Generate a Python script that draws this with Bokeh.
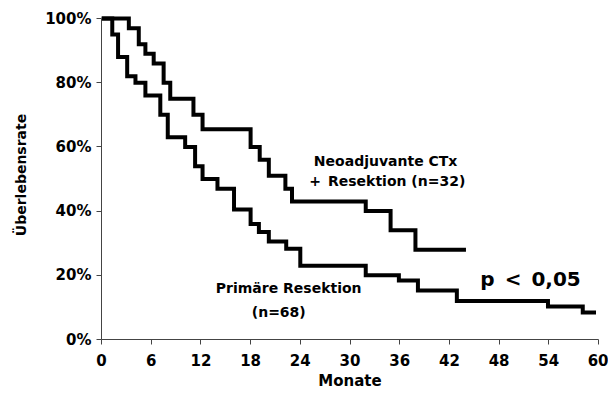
from bokeh.plotting import figure
from bokeh.models import Range1d, Label, FixedTicker, CustomJSTickFormatter
from bokeh.embed import file_html
from bokeh.resources import INLINE

# Kaplan-Meier curves (months, survival %)
neo_t = [0, 3.3, 4.5, 5.3, 6.3, 7.5, 8.3, 11.1, 12.2, 18.0, 19.1, 20.2, 22.2, 23.0, 31.9, 34.9, 37.9, 44.0]
neo_s = [100, 97, 92, 89, 86, 80, 75, 70, 65.5, 60, 56, 51, 47, 43, 40, 34, 28, 28]

prim_t = [0, 1.3, 2.0, 3.1, 4.1, 5.3, 7.1, 8.0, 10.1, 11.3, 12.2, 14.0, 16.0, 18.0, 19.0, 20.2,
          22.3, 24.0, 31.9, 35.9, 38.2, 42.9, 53.9, 58.1, 59.7]
prim_s = [100, 95, 88, 82, 80, 76, 70, 63, 60, 54, 50, 47, 40.5, 36, 33.5, 30.5,
          28.3, 23, 20, 18.4, 15.3, 12, 10.3, 8.4, 8.4]

x_ticks = [0, 6, 12, 18, 24, 30, 36, 42, 48, 54, 60]
y_ticks = [0, 20, 40, 60, 80, 100]

FONT = "DejaVu Sans"

p = figure(width=608, height=393, output_backend="svg", toolbar_location=None,
           x_range=Range1d(0, 60), y_range=Range1d(0, 102.5),
           min_border_left=101, min_border_right=10, min_border_top=10, min_border_bottom=54)
p.outline_line_color = None
p.grid.visible = False
p.background_fill_color = "white"
p.border_fill_color = "white"

p.step(neo_t, neo_s, mode="after", line_color="black", line_width=4, line_join="miter")
p.step(prim_t, prim_s, mode="after", line_color="black", line_width=4, line_join="miter")

for ax in (p.xaxis[0], p.yaxis[0]):
    ax.axis_line_color = "#444444"
    ax.axis_line_width = 1
    ax.major_tick_line_color = "#444444"
    ax.major_tick_in = 0
    ax.major_tick_out = 5
    ax.minor_tick_line_color = None
    ax.major_label_text_font = FONT
    ax.major_label_text_font_style = "bold"
    ax.major_label_text_font_size = "15px"
    ax.major_label_text_color = "black"
    ax.axis_label_text_font = FONT
    ax.axis_label_text_font_style = "bold"
    ax.axis_label_text_color = "black"

p.xaxis.ticker = FixedTicker(ticks=x_ticks)
p.yaxis.ticker = FixedTicker(ticks=y_ticks)
p.yaxis.bounds = (0, 100)
p.yaxis.formatter = CustomJSTickFormatter(code="return tick.toFixed(0) + '%';")
p.xaxis.major_label_standoff = 9
p.yaxis.major_label_standoff = 5
p.xaxis.axis_label = "Monate"
p.xaxis.axis_label_text_font_size = "15px"
p.xaxis.axis_label_standoff = 3
p.yaxis.axis_label = "Überlebensrate"
p.yaxis.axis_label_text_font_size = "14px"
p.yaxis.axis_label_standoff = 13

def lab(text, x, y, size):
    p.add_layout(Label(x=x, y=y, text=text, text_align="center", text_baseline="middle",
                       text_font=FONT, text_font_style="bold", text_font_size=size,
                       text_color="black"))

lab("Neoadjuvante CTx", 34.3, 55.5, "14px")
lab("+\u2002Resektion (n=32)", 34.5, 49.5, "14px")
lab("Primäre Resektion", 22.6, 15.9, "14px")
lab("(n=68)", 21.4, 8.7, "14px")
lab("p\u2002<\u20020,05", 51.8, 19.0, "20px")

open("out.html", "w").write(file_html(p, INLINE))
